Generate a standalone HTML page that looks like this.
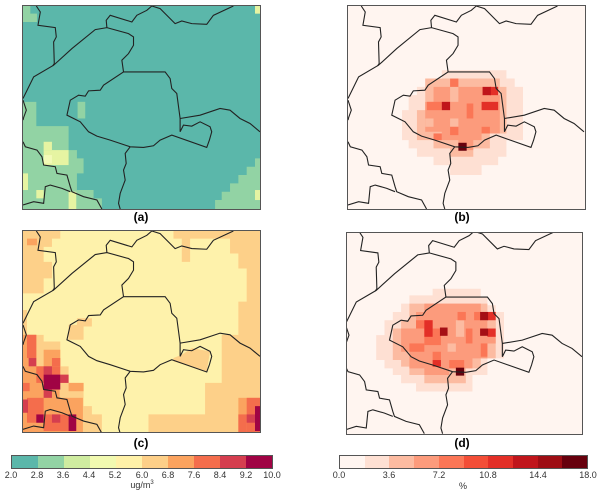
<!DOCTYPE html>
<html><head><meta charset="utf-8"><style>
body{margin:0;background:#fff;width:600px;height:496px;position:relative;overflow:hidden;font-family:"Liberation Sans","DejaVu Sans",sans-serif}
svg.p{position:absolute;border:1px solid #555;box-sizing:border-box}
.lab{position:absolute;font-weight:bold;font-size:12px;transform:translateX(-50%)}
.t{position:absolute;font-size:9px;color:#333;transform:translateX(-50%)}
.cb{position:absolute;display:flex;border:1px solid #555;box-sizing:border-box}
.cb div{flex:1}
</style></head><body>
<svg width="0" height="0" style="position:absolute">
<defs>
<g id="bd" fill="none" stroke="#222" stroke-width="1.1" vector-effect="non-scaling-stroke">
<path vector-effect="non-scaling-stroke" d="M108,17 L120,35 L113,75 L165,82 L168,110 L160,125 L162,190 L157,197"/>
<path vector-effect="non-scaling-stroke" d="M68,295 L100,230 L160,195 L215,145 L285,88 L320,82 L385,100 L400,110 L400,135 L385,160 L365,180 L370,215"/>
<path vector-effect="non-scaling-stroke" d="M320,82 L318,60 L330,45 L395,65 L410,45 L440,30 L455,17 L480,25 L525,70 L545,62 L575,70 L620,72 L640,45 L700,17"/>
<path vector-effect="non-scaling-stroke" d="M370,215 L495,215 L510,235 L515,265 L530,280 L540,355 L540,395 L550,375 L575,378 L600,365 L630,380 L635,395 L628,420 L620,442 L515,405 L480,420 L460,437 L430,442 L390,440 L330,420 L290,408 L265,395 L240,365 L200,345 L210,300 L235,285 L255,288 L265,272 L300,270 L310,255 L370,215 Z"/>
<path vector-effect="non-scaling-stroke" d="M540,355 L600,345 L660,325 L690,330 L720,355 L750,370 L780,395"/>
<path vector-effect="non-scaling-stroke" d="M390,440 L375,460 L378,490 L370,510 L375,540 L360,580 L355,610 L360,627"/>
<path vector-effect="non-scaling-stroke" d="M68,300 L78,330 L70,352 L68,360"/>
<path vector-effect="non-scaling-stroke" d="M68,425 L75,440 L110,450 L125,470 L130,495 L165,500 L170,520 L200,525 L210,560 L215,575 L250,590 L290,600 L305,627"/>
<path vector-effect="non-scaling-stroke" d="M68,615 L100,605 L130,610 L135,560 L150,555 L185,565 L210,575"/>
</g>
</defs></svg>

<!-- (a) -->
<svg class="p" style="left:22px;top:5px;width:239px;height:205px" viewBox="68 17 712 610" preserveAspectRatio="none">
<rect x="0" y="0" width="900" height="700" fill="#5bb7aa"/>
<g fill="#92d3a4">
<polygon points="68,17 90,17 90,40 110,40 110,65 68,65"/>
<polygon points="68,305 108,305 108,378 205,378 205,450 230,450 230,475 250,475 250,520 230,520 230,570 280,570 280,595 305,595 305,627 68,627"/>
<polygon points="780,475 765,475 765,500 740,500 740,525 715,525 715,550 690,550 690,575 665,575 665,600 645,600 645,627 780,627"/>
<rect x="232" y="305" width="23" height="50"/>
</g>
<g fill="#e6f4a2">
<rect x="130" y="425" width="25" height="25"/><rect x="130" y="450" width="75" height="45"/>
<rect x="68" y="520" width="15" height="50"/><rect x="205" y="575" width="23" height="52"/>
<rect x="108" y="570" width="22" height="25"/><rect x="765" y="570" width="15" height="30"/>
<rect x="765" y="17" width="15" height="23"/><rect x="155" y="515" width="25" height="25" fill="#92d3a4"/>
</g>
<rect x="130" y="465" width="25" height="25" fill="#f3fab8"/>
<use href="#bd"/>
</svg>

<!-- (c) -->
<svg class="p" style="left:22px;top:230px;width:239px;height:203px" viewBox="68 17 712 606" preserveAspectRatio="none">
<rect x="0" y="0" width="900" height="700" fill="#fef2ab"/>
<g fill="#fdd089">
<polygon points="68,17 180,17 180,40 155,40 155,65 130,65 130,110 155,110 155,160 130,160 130,205 68,205"/>
<polygon points="520,17 780,17 780,623 445,623 445,570 615,570 615,475 665,475 665,330 715,330 715,230 740,230 740,130 715,130 715,85 690,85 690,40 570,40 570,110 545,110 545,40 520,40"/>
<polygon points="520,400 545,390 575,370 630,380 620,440 520,410"/>
<polygon points="68,255 80,255 80,330 130,330 130,350 180,350 180,425 205,425 205,475 250,475 250,545 275,545 275,570 305,570 305,623 68,623"/>
<polygon points="205,300 230,300 230,280 275,280 275,305 250,305 250,345 205,345"/>
</g>
<g fill="#fba35f">
<rect x="80" y="40" width="30" height="20"/>
<rect x="68" y="330" width="40" height="95"/><rect x="130" y="375" width="50" height="50"/>
<rect x="68" y="425" width="110" height="100"/><rect x="68" y="520" width="180" height="103"/>
<rect x="715" y="520" width="65" height="103"/><rect x="205" y="475" width="45" height="25"/>
</g>
<g fill="#f46d4c">
<rect x="80" y="330" width="28" height="70"/><rect x="108" y="425" width="72" height="50"/>
<rect x="80" y="520" width="50" height="75"/><rect x="130" y="570" width="75" height="50"/>
<rect x="740" y="520" width="40" height="103"/><rect x="715" y="570" width="25" height="53"/>
<rect x="155" y="400" width="25" height="25"/><rect x="68" y="475" width="20" height="25"/>
</g>
<g fill="#d53e4f">
<rect x="85" y="400" width="23" height="25"/><rect x="130" y="425" width="25" height="25"/>
<rect x="180" y="450" width="25" height="25"/><rect x="130" y="495" width="25" height="25"/>
<rect x="68" y="525" width="15" height="40"/><rect x="740" y="570" width="25" height="25"/>
<rect x="155" y="570" width="25" height="25"/>
</g>
<g fill="#a00344">
<rect x="130" y="450" width="50" height="45"/><rect x="108" y="570" width="22" height="25"/>
<rect x="205" y="570" width="23" height="50"/><rect x="765" y="545" width="15" height="75"/>
</g>
<use href="#bd"/>
</svg>

<!-- (b) -->
<svg class="p" style="left:347px;top:5px;width:239px;height:205px" viewBox="82 17 715 610" preserveAspectRatio="none">
<rect x="0" y="0" width="900" height="700" fill="#fff5f0"/>
<polygon fill="#fee0d3" points="365,210 560,210 560,235 585,235 585,260 610,260 610,420 560,420 560,470 535,470 535,495 485,495 485,525 390,525 390,495 340,495 340,470 290,470 290,445 265,445 265,420 245,420 245,330 265,330 265,285 290,285 290,260 315,260 315,235 365,235"/>
<polygon fill="#fcbba1" points="315,235 540,235 540,260 560,260 560,400 510,400 510,445 460,445 460,470 390,470 390,445 340,445 340,420 290,420 290,330 315,330"/>
<polygon fill="#fc9b7c" points="340,260 515,260 515,285 540,285 540,400 485,400 485,420 460,420 460,450 415,450 415,420 365,420 365,395 315,395 315,305 340,305"/>
<g fill="#fcbba1"><rect x="390" y="260" width="25" height="45"/><rect x="390" y="355" width="25" height="25"/><rect x="315" y="355" width="25" height="25"/></g>
<g fill="#fb7656">
<rect x="320" y="305" width="45" height="25"/><rect x="390" y="380" width="25" height="25"/>
<rect x="440" y="310" width="20" height="45"/><rect x="485" y="380" width="25" height="20"/>
<rect x="340" y="400" width="25" height="20"/><rect x="390" y="235" width="25" height="25"/>
</g>
<g fill="#e32f27"><rect x="485" y="305" width="50" height="25"/><rect x="510" y="260" width="25" height="25"/></g>
<g fill="#c0151b"><rect x="365" y="305" width="25" height="25"/><rect x="488" y="260" width="25" height="25"/></g>
<rect x="415" y="428" width="25" height="24" fill="#67000d"/>
<g transform="translate(14,0)"><use href="#bd"/></g>
</svg>

<!-- (d) -->
<svg class="p" style="left:346px;top:232px;width:237px;height:203px" viewBox="77 22 708 606" preserveAspectRatio="none">
<rect x="0" y="0" width="900" height="700" fill="#fff5f0"/>
<polygon fill="#fee0d3" points="335,190 480,190 480,215 500,215 500,240 525,240 525,260 550,260 550,400 500,400 500,450 455,450 455,500 285,500 285,475 240,475 240,450 215,450 215,430 190,430 190,405 165,405 165,330 190,330 190,285 215,285 215,260 240,260 240,235 265,235 265,210 335,210"/>
<polygon fill="#fcbba1" points="265,235 500,235 500,260 525,260 525,400 480,400 480,430 435,430 435,475 310,475 310,450 265,450 265,425 240,425 240,405 215,405 215,310 240,310 240,285 265,285"/>
<polygon fill="#fc9b7c" points="310,235 480,235 480,260 500,260 500,330 525,330 525,355 500,355 500,400 455,400 455,430 385,430 385,450 310,450 310,430 265,430 265,380 240,380 240,310 285,310 285,260 310,260"/>
<g fill="#fcbba1"><rect x="405" y="285" width="25" height="50"/><rect x="380" y="355" width="25" height="25"/><rect x="500" y="285" width="25" height="25"/></g>
<g fill="#fb7656">
<rect x="285" y="285" width="50" height="25"/><rect x="310" y="310" width="50" height="50"/>
<rect x="335" y="380" width="25" height="25"/><rect x="385" y="405" width="45" height="25"/>
<rect x="410" y="260" width="25" height="25"/><rect x="435" y="310" width="20" height="45"/>
<rect x="460" y="260" width="20" height="25"/><rect x="480" y="355" width="20" height="40"/>
<rect x="265" y="355" width="45" height="25"/>
</g>
<g fill="#e32f27"><rect x="310" y="285" width="25" height="50"/><rect x="500" y="260" width="25" height="25"/><rect x="500" y="310" width="25" height="25"/><rect x="335" y="405" width="25" height="20"/></g>
<g fill="#a50f15"><rect x="357" y="307" width="23" height="25"/><rect x="478" y="260" width="24" height="25"/><rect x="478" y="310" width="24" height="22"/></g>
<rect x="405" y="428" width="25" height="24" fill="#67000d"/>
<g transform="translate(5,0)"><use href="#bd"/></g>
</svg>

<div class="lab" style="left:141px;top:210px">(a)</div>
<div class="lab" style="left:462px;top:210px">(b)</div>
<div class="lab" style="left:141px;top:436px">(c)</div>
<div class="lab" style="left:462px;top:436px">(d)</div>

<div class="cb" style="left:11px;top:455px;width:262px;height:14px">
<div style="background:#5bb7aa"></div><div style="background:#92d3a4"></div><div style="background:#cfeca0"></div><div style="background:#f1f9b0"></div><div style="background:#fff1a8"></div><div style="background:#fdcf88"></div><div style="background:#fba35f"></div><div style="background:#f46d4c"></div><div style="background:#d53e4f"></div><div style="background:#a00344"></div>
</div>
<div class="t" style="left:11px;top:470px">2.0</div><div class="t" style="left:37px;top:470px">2.8</div><div class="t" style="left:63px;top:470px">3.6</div><div class="t" style="left:89px;top:470px">4.4</div><div class="t" style="left:115px;top:470px">5.2</div><div class="t" style="left:142px;top:470px">6.0</div><div class="t" style="left:168px;top:470px">6.8</div><div class="t" style="left:194px;top:470px">7.6</div><div class="t" style="left:220px;top:470px">8.4</div><div class="t" style="left:246px;top:470px">9.2</div><div class="t" style="left:272px;top:470px">10.0</div>
<div class="t" style="left:142px;top:480px">ug/m<sup style="font-size:6px">3</sup></div>

<div class="cb" style="left:339px;top:455px;width:249px;height:14px">
<div style="background:#fff5f0"></div><div style="background:#fee0d3"></div><div style="background:#fcbba1"></div><div style="background:#fc9b7c"></div><div style="background:#fb7656"></div><div style="background:#f34e37"></div><div style="background:#e32f27"></div><div style="background:#c0151b"></div><div style="background:#9e0d14"></div><div style="background:#67000d"></div>
</div>
<div class="t" style="left:339px;top:470px">0.0</div><div class="t" style="left:389px;top:470px">3.6</div><div class="t" style="left:439px;top:470px">7.2</div><div class="t" style="left:488px;top:470px">10.8</div><div class="t" style="left:538px;top:470px">14.4</div><div class="t" style="left:588px;top:470px">18.0</div>
<div class="t" style="left:463px;top:481px">%</div>
</body></html>
